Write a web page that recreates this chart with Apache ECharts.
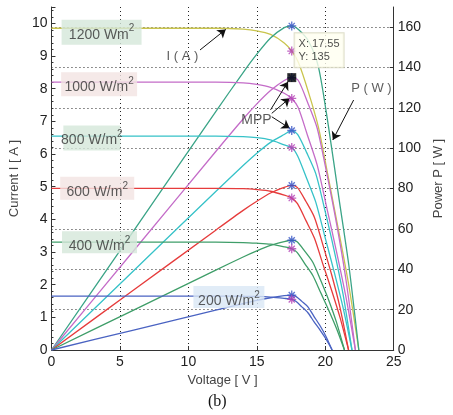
<!DOCTYPE html>
<html><head><meta charset="utf-8">
<script src="https://cdn.jsdelivr.net/npm/echarts@6/dist/echarts.min.js"></script>
<style>html,body{margin:0;padding:0;background:#fff}#c{width:453px;height:415px}</style>
</head><body><div id="c"></div>
<script>
// ---- data ----
const irradiance = ['1200', '1000', '800', '600', '400', '200'];
const xTicks = [0, 5, 10, 15, 20, 25];
const powerTicks = [0, 20, 40, 60, 80, 100, 120, 140, 160];
const currentTicks = [0, 1, 2, 3, 4, 5, 6, 7, 8, 9, 10];

const v1200 = [0, 6, 12, 14, 15, 16, 17, 17.55, 18.04, 18.78, 19.51, 20.25, 20.98, 21.72, 22.45];
const i1200 = [9.85, 9.85, 9.85, 9.82, 9.77, 9.66, 9.40, 9.15, 8.80, 7.88, 6.80, 5.22, 3.64, 1.97, 0];
const p1200 = [0, 59.1, 118.2, 137.5, 146.6, 154.6, 159.8, 160.6, 158.8, 153, 140, 110, 76, 42, 0];

const v1000 = [0, 6, 12, 14, 15, 16, 17, 17.55, 18.02, 18.71, 19.41, 20.11, 20.81, 21.50, 22.2];
const i1000 = [8.2, 8.2, 8.2, 8.18, 8.13, 8.04, 7.86, 7.70, 7.42, 6.56, 5.66, 4.35, 3.03, 1.64, 0];
const p1000 = [0, 49.2, 98.4, 114.5, 122.0, 128.6, 133.6, 135, 133.7, 122.7, 109.9, 87.5, 63.1, 35.3, 0];

const v800 = [0, 6, 12, 14, 15, 16, 17, 17.55, 17.99, 18.65, 19.31, 19.97, 20.63, 21.29, 21.95];
const i800 = [6.55, 6.55, 6.55, 6.53, 6.50, 6.43, 6.28, 6.20, 5.93, 5.24, 4.52, 3.47, 2.42, 1.31, 0];
const p800 = [0, 39.3, 78.6, 91.4, 97.5, 102.9, 106.8, 108.8, 106.7, 97.7, 87.3, 69.3, 49.9, 27.9, 0];

const v600 = [0, 6, 12, 14, 15, 16, 17, 17.55, 17.97, 18.59, 19.21, 19.83, 20.46, 21.08, 21.7];
const i600 = [4.95, 4.95, 4.95, 4.94, 4.91, 4.86, 4.74, 4.65, 4.48, 3.96, 3.42, 2.62, 1.83, 0.99, 0];
const p600 = [0, 29.7, 59.4, 69.2, 73.7, 77.8, 80.6, 81.6, 80.5, 73.6, 65.7, 52.0, 37.4, 20.9, 0];

const v400 = [0, 6, 12, 14, 15, 16, 17, 17.55, 17.94, 18.51, 19.09, 19.67, 20.25, 20.82, 21.4];
const i400 = [3.3, 3.3, 3.3, 3.29, 3.27, 3.24, 3.16, 3.10, 2.99, 2.64, 2.28, 1.75, 1.22, 0.66, 0];
const p400 = [0, 19.8, 39.6, 46.1, 49.1, 51.8, 53.7, 54.4, 53.6, 48.9, 43.5, 34.4, 24.7, 13.7, 0];

const v200 = [0, 6, 12, 14, 15, 16, 17, 17.55, 17.85, 18.29, 18.73, 19.17, 19.62, 20.06, 20.5];
const i200 = [1.65, 1.65, 1.65, 1.645, 1.64, 1.62, 1.58, 1.55, 1.49, 1.32, 1.14, 0.87, 0.61, 0.33, 0];
const p200 = [0, 9.9, 19.8, 23.0, 24.6, 25.9, 26.9, 27.2, 26.6, 24.1, 21.4, 16.7, 12.0, 6.6, 0];

const mppIndex = 7; // position of the maximum power point in each array
const labelText = ['1200 Wm', '1000 W/m', '800 W/m', '600 W/m', '400 W/m', '200 W/m'];

// ---- styling / annotation layout (not data) ----
const FONT = "'Liberation Sans Narrow','Liberation Sans',Arial,sans-serif";
const colI = ['#c9c44c', '#c46cc8', '#36c2c8', '#e63c3c', '#3f9e69', '#4a63c2'];
const colP = ['#3aa487', '#c46cc8', '#36c2c8', '#e63c3c', '#3f9e69', '#4a63c2'];
const GREEN = '#d4e7d9', PINK = '#f3e4e2', BLUE = '#d9e7f5';
const boxes = [
  {v: 3.66, dy: 4, w: 80, h: 25, bg: GREEN},
  {v: 3.48, dy: 2, w: 76, h: 24, bg: PINK},
  {v: 2.95, dy: 2, w: 57, h: 25, bg: GREEN},
  {v: 3.34, dy: 0, w: 74, h: 23, bg: PINK},
  {v: 3.51, dy: 0, w: 75, h: 22, bg: GREEN},
  {v: 12.96, dy: 1, w: 71, h: 22, bg: BLUE}
];
const V = [v1200, v1000, v800, v600, v400, v200];
const I = [i1200, i1000, i800, i600, i400, i200];
const P = [p1200, p1000, p800, p600, p400, p200];

const series = [];
irradiance.forEach((g, k) => {
  series.push({
    name: 'I ' + g, type: 'line', yAxisIndex: 0, smooth: 0.25, showSymbol: false, silent: true,
    lineStyle: {color: colI[k], width: 1.3}, z: 2,
    data: V[k].map((x, j) => [x, I[k][j]])
  });
  series.push({
    name: 'P ' + g, type: 'line', yAxisIndex: 1, smooth: 0.25, showSymbol: false, silent: true,
    lineStyle: {color: colP[k], width: 1.3}, z: 2,
    data: V[k].map((x, j) => [x, P[k][j]])
  });
});

const STAR = 'path://M5,0L5,10M0,5L10,5M1.6,1.6L8.4,8.4M1.6,8.4L8.4,1.6';
series.push({
  type: 'scatter', yAxisIndex: 1, symbol: STAR, symbolSize: 9, silent: true, z: 5,
  itemStyle: {color: 'rgba(0,0,0,0)', borderColor: '#3552c6', borderWidth: 1.3},
  data: V.map((v, k) => [v[mppIndex], P[k][mppIndex]])
});
series.push({
  type: 'scatter', yAxisIndex: 0, symbol: STAR, symbolSize: 9, silent: true, z: 5,
  itemStyle: {color: 'rgba(0,0,0,0)', borderColor: '#b23eb4', borderWidth: 1.3},
  data: V.map((v, k) => [v[mppIndex], I[k][mppIndex]])
});
series.push({
  type: 'scatter', yAxisIndex: 1, symbol: 'rect', symbolSize: 9, silent: true, z: 6,
  itemStyle: {color: '#000'},
  data: [[v1000[mppIndex], p1000[mppIndex]]]
});

series.push({
  type: 'scatter', yAxisIndex: 0, symbolSize: 0, silent: true, z: 10,
  data: irradiance.map((g, k) => ({
    value: [boxes[k].v, I[k][0]],
    label: {
      show: true, position: 'inside', offset: [0, boxes[k].dy],
      formatter: '{n|' + labelText[k] + '}{s|2}',
      backgroundColor: boxes[k].bg, width: boxes[k].w, height: boxes[k].h - 4,
      padding: [4, 0, 0, 0], align: 'center', verticalAlign: 'middle',
      rich: {
        n: {fontFamily: FONT, fontSize: 14, color: '#333', lineHeight: 18, verticalAlign: 'bottom'},
        s: {fontFamily: FONT, fontSize: 10, color: '#333', lineHeight: 18, verticalAlign: 'top'}
      }
    }
  }))
});

series.push({
  type: 'scatter', yAxisIndex: 1, symbolSize: 0, silent: true, z: 12,
  data: [
    {value: [9.57, 145.4], label: {show: true, position: 'inside', formatter: 'I ( A )', fontFamily: FONT, fontSize: 13, color: '#333'}},
    {value: [14.97, 114], label: {show: true, position: 'inside', formatter: 'MPP', fontFamily: FONT, fontSize: 14, color: '#333'}},
    {value: [23.37, 129.4], label: {show: true, position: 'inside', formatter: 'P ( W )', fontFamily: FONT, fontSize: 13, color: '#333'}},
    {value: [17.76, 157.0], label: {show: true, position: 'inside',
      formatter: 'X: ' + v1000[mppIndex] + '\nY: ' + p1000[mppIndex],
      fontFamily: FONT, fontSize: 11, lineHeight: 13, color: '#222', align: 'left', verticalAlign: 'top',
      backgroundColor: '#fffff0', borderColor: '#d4d4bc', borderWidth: 1, padding: [4, 4, 4, 4]}}
  ],
  markLine: {
    silent: true, symbol: ['none', 'arrow'], symbolSize: 8, animation: false,
    label: {show: false}, lineStyle: {color: '#111', width: 1, type: 'solid'},
    data: [
      [{coord: [10.85, 148.7]}, {coord: [12.73, 158.9]}],
      [{coord: [16.0, 119.0]}, {coord: [17.28, 133.0]}],
      [{coord: [16.09, 117.3]}, {coord: [17.40, 124.8]}],
      [{coord: [16.09, 115.6]}, {coord: [17.40, 109.9]}],
      [{coord: [22.07, 123.9]}, {coord: [20.55, 104.1]}]
    ]
  }
});

const dotted = {type: [1, 3], color: '#222', width: 1};
const option = {
  animation: false,
  backgroundColor: '#fff',
  grid: {left: 48.4, right: 48, top: 7, bottom: 65, containLabel: false},
  xAxis: {
    type: 'value', min: xTicks[0], max: xTicks[xTicks.length - 1], interval: 5,
    name: 'Voltage [ V ]', nameLocation: 'middle', nameGap: 24,
    nameTextStyle: {fontFamily: FONT, fontSize: 13, color: '#444'},
    axisLine: {lineStyle: {color: '#333', width: 1}},
    axisTick: {inside: true, length: 4, lineStyle: {color: '#333'}},
    axisLabel: {fontFamily: FONT, fontSize: 14, color: '#222', margin: 5},
    splitLine: {show: true, showMinLine: false, showMaxLine: false, lineStyle: dotted}
  },
  yAxis: [
    {
      type: 'value', min: 0, max: 10.5, interval: 1, position: 'left',
      name: 'Current I [ A ]', nameLocation: 'middle', nameGap: 28,
      nameTextStyle: {fontFamily: FONT, fontSize: 13, color: '#444'},
      axisLine: {show: true, lineStyle: {color: '#333', width: 1}},
      axisTick: {inside: true, length: 4, lineStyle: {color: '#333'}},
      minorTick: {show: true, splitNumber: 5, length: 2, lineStyle: {color: '#333'}},
      axisLabel: {fontFamily: FONT, fontSize: 14, color: '#222', margin: 4, showMaxLabel: false},
      splitLine: {show: false}
    },
    {
      type: 'value', min: 0, max: 170, interval: 20, position: 'right',
      name: 'Power P [ W ]', nameLocation: 'middle', nameGap: 31,
      nameTextStyle: {fontFamily: FONT, fontSize: 13, color: '#444'},
      axisLine: {show: true, lineStyle: {color: '#333', width: 1}},
      axisTick: {inside: true, length: 4, lineStyle: {color: '#333'}},
      axisLabel: {fontFamily: FONT, fontSize: 14, color: '#222', margin: 4, showMaxLabel: false},
      splitLine: {show: true, showMinLine: false, showMaxLine: false, lineStyle: dotted}
    }
  ],
  graphic: [{
    type: 'text', left: 208, top: 394,
    style: {text: '(b)', font: '16px "Liberation Serif", "Times New Roman", serif', fill: '#111'}
  }],
  series: series
};
const chart = echarts.init(document.getElementById('c'));
chart.setOption(option);
</script></body></html>
